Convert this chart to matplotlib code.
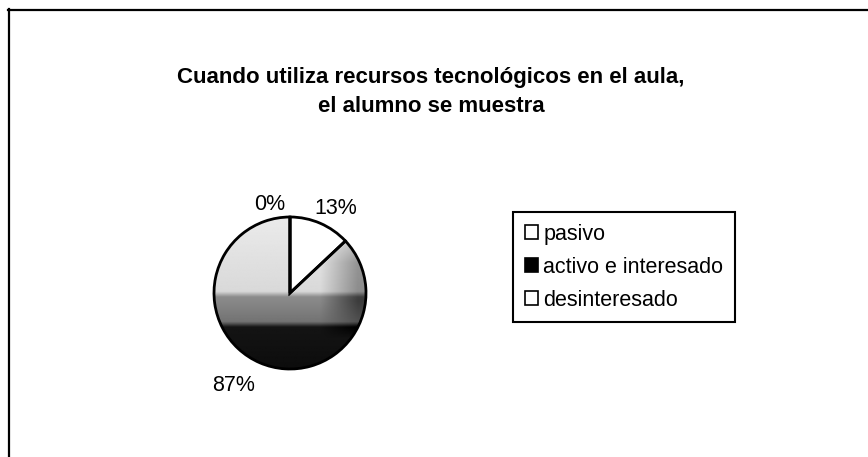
import matplotlib
matplotlib.use("Agg")
import matplotlib.pyplot as plt
import numpy as np
from matplotlib.lines import Line2D

plt.rcParams["font.family"] = ["Liberation Sans", "DejaVu Sans"]

# data
categories = ["pasivo", "activo e interesado", "desinteresado"]
values = [13, 87, 0]
pct_labels = ["13%", "87%", "0%"]
title = "Cuando utiliza recursos tecnológicos en el aula,\nel alumno se muestra"

W, H, DPI = 868, 457, 100
fig = plt.figure(figsize=(W / DPI, H / DPI), dpi=DPI)

# frame lines (top and left only, as in scan)
fig.add_artist(Line2D([8 / W, 1], [1 - 9.5 / H, 1 - 9.5 / H], color="black", lw=1.6))
fig.add_artist(Line2D([8.5 / W, 8.5 / W], [0, 1 - 9 / H], color="black", lw=1.6))

fig.text(431 / W, 1 - 92 / H, title, ha="center", va="center",
         fontsize=16, fontweight="bold", linespacing=1.5)

# pie axes
cx, cy, r_px = 290, 293, 76
lim = 1.6
side = 2 * lim * r_px
ax = fig.add_axes([(cx - side / 2) / W, 1 - (cy + side / 2) / H, side / W, side / H])

colors = ["white", "black", "white"]
wedges, _ = ax.pie(values, colors=colors, startangle=90, counterclock=False,
                   wedgeprops=dict(linewidth=0))

# shaded fill for "activo e interesado", clipped to its wedge
ys = np.linspace(1, -1, 200)
shade = np.interp(ys, [-1, -0.45, -0.38, -0.05, 0.02, 1], [0.05, 0.08, 0.45, 0.55, 0.85, 0.92])
xs = np.linspace(-1, 1, 200)
side_dark = np.clip((xs - 0.4) * 0.6, 0, 0.3)
fade = np.clip((ys + 0.6) * 2, 0, 1) * np.clip((0.9 - ys) * 2, 0, 1)
img = np.clip(shade[:, None] - side_dark[None, :] * fade[:, None], 0, 1)
im = ax.imshow(img, cmap="gray", vmin=0, vmax=1, extent=[-1, 1, -1, 1],
               interpolation="bilinear", zorder=1.5)
im.set_clip_path(wedges[1])

# outlines on top
ax.pie(values, startangle=90, counterclock=False,
       wedgeprops=dict(fill=False, edgecolor="black", linewidth=2, zorder=3))

ax.set_xlim(-lim, lim)
ax.set_ylim(-lim, lim)
ax.set_aspect("equal")
ax.axis("off")

# percentage labels placed outside each wedge
offsets = {"13%": (-5, 1.26), "87%": (-8, 1.42), "0%": (13, 1.19)}
for w, lab in zip(wedges, pct_labels):
    mid = (w.theta1 + w.theta2) / 2
    dang, dist = offsets[lab]
    a = np.deg2rad(mid + dang)
    ax.text(dist * np.cos(a), dist * np.sin(a), lab, ha="center", va="center", fontsize=15.5)

leg = fig.legend(wedges, categories, loc="upper left",
                 bbox_to_anchor=(513 / W, 1 - 212 / H), fontsize=15.5,
                 handlelength=0.6, handleheight=0.6, handletextpad=0.25,
                 labelspacing=0.55, borderpad=0.55, borderaxespad=0, fancybox=False,
                 edgecolor="black", framealpha=1)
leg.get_frame().set_linewidth(1.5)
for h in leg.legend_handles:
    h.set_edgecolor("black")
    h.set_linewidth(1.2)

fig.savefig("out.png", dpi=DPI)
